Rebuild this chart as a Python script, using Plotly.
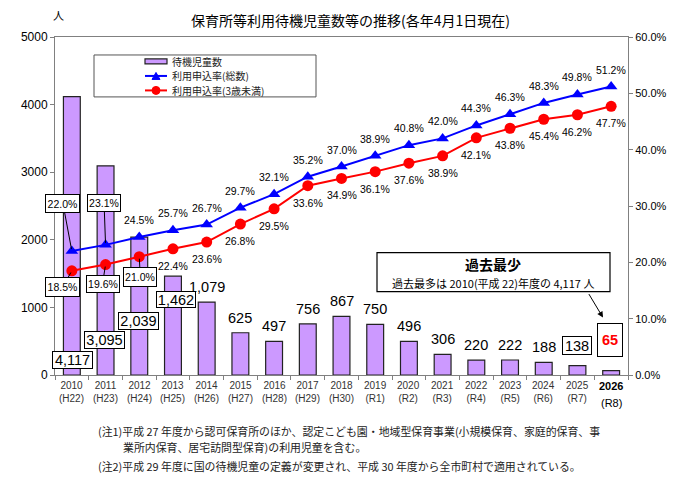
import plotly.graph_objects as go

years = ["2010", "2011", "2012", "2013", "2014", "2015", "2016", "2017", "2018",
         "2019", "2020", "2021", "2022", "2023", "2024", "2025", "2026"]
eras = ["(H22)", "(H23)", "(H24)", "(H25)", "(H26)", "(H27)", "(H28)", "(H29)", "(H30)",
        "(R1)", "(R2)", "(R3)", "(R4)", "(R5)", "(R6)", "(R7)", "(R8)"]
waiting = [4117, 3095, 2039, 1462, 1079, 625, 497, 756, 867, 750, 496, 306, 220, 222, 188, 138, 65]
rate_total = [22.0, 23.1, 24.5, 25.7, 26.7, 29.7, 32.1, 35.2, 37.0, 38.9, 40.8, 42.0, 44.3, 46.3, 48.3, 49.8, 51.2]
rate_under3 = [18.5, 19.6, 21.0, 22.4, 23.6, 26.8, 29.5, 33.6, 34.9, 36.1, 37.6, 38.9, 42.1, 43.8, 45.4, 46.2, 47.7]
legend_names = ["待機児童数", "利用申込率(総数)", "利用申込率(3歳未満)"]

W, H = 684, 486
L, R, T, B = 55, 628, 37, 375.5


def px(x):
    return (x - L) / (R - L)


def py(y):
    return (B - y) / (B - T)


NUM = "Liberation Sans, Arial, Noto Sans CJK JP"
JP = "Noto Sans CJK JP, Liberation Sans"
PCT = 10.5
BARF = 14.5

fig = go.Figure()
fig.add_trace(go.Bar(x=years, y=waiting, name=legend_names[0],
                     marker=dict(color="#CC99FF", line=dict(color="#222222", width=1.2)),
                     width=0.5, showlegend=False))
fig.add_trace(go.Scatter(x=years, y=rate_total, yaxis="y2", mode="lines+markers",
                         name=legend_names[1], line=dict(color="#0000FF", width=2),
                         marker=dict(symbol="triangle-up", size=11, color="#0000FF"),
                         showlegend=False))
fig.add_trace(go.Scatter(x=years, y=rate_under3, yaxis="y2", mode="lines+markers",
                         name=legend_names[2], line=dict(color="#FF0000", width=2),
                         marker=dict(symbol="circle", size=11, color="#FF0000"),
                         showlegend=False))

ann = []
shapes = []

# percentage labels: boxed ones -> (ax, ay, box width, box height)
boxed_total = {0: (-9, -48, 35, 19), 1: (-1.5, -42, 34, 18)}
boxed_u3 = {0: (-9, 16, 35, 20), 1: (-3, 19, 34, 18), 2: (1, 20, 34, 20)}
for series, boxed, shift in [(rate_total, boxed_total, 17), (rate_under3, boxed_u3, -17)]:
    for i, v in enumerate(series):
        if i in boxed:
            ax, ay, bw, bh = boxed[i]
            ann.append(dict(x=i, y=v, yref="y2", text=f"{v:.1f}%", showarrow=True, arrowhead=0,
                            arrowwidth=1, arrowcolor="black", ax=ax, ay=ay, standoff=2,
                            width=bw - 2, height=bh - 2, borderpad=0,
                            bgcolor="white", bordercolor="black", borderwidth=1,
                            font=dict(family=NUM, size=PCT, color="black")))
        else:
            ann.append(dict(x=i, y=v, yref="y2", text=f"{v:.1f}%", showarrow=False, yshift=shift,
                            xanchor="center", yanchor="middle",
                            font=dict(family=NUM, size=PCT, color="black")))

# bar labels: boxed ones -> (y position, xshift, box width, box height)
boxed_bars = {0: (229, 1, 41, 18), 1: (524, -1, 41, 18), 2: (805, -1, 41, 18), 3: (1115, 3, 40, 17),
              15: (436, 0, 30, 19), 16: (524, -1, 26, 34)}
for i, v in enumerate(waiting):
    txt = f"{v:,}"
    if i in boxed_bars:
        yy, xs, bw, bh = boxed_bars[i]
        color = "#FF0000" if i == 16 else "black"
        t = f"<b>{txt}</b>" if i == 16 else txt
        ann.append(dict(x=i, y=yy, text=t, showarrow=False, xshift=xs,
                        xanchor="center", yanchor="middle",
                        width=bw - 2, height=bh - 2, borderpad=0,
                        bgcolor="white", bordercolor="black", borderwidth=1,
                        font=dict(family=NUM, size=BARF, color=color)))
    else:
        ann.append(dict(x=i, y=v, text=txt, showarrow=False, yshift=15,
                        xanchor="center", yanchor="middle",
                        font=dict(family=NUM, size=BARF, color="black")))

# x tick labels (custom)
for i, (yr, er) in enumerate(zip(years, eras)):
    if i < 16:
        ann.append(dict(x=i, y=0, text=f"{yr}<br>{er}", showarrow=False, yanchor="top",
                        xanchor="center", yshift=-3,
                        font=dict(family=NUM, size=10, color="#333333")))
    else:
        ann.append(dict(x=i, y=0, text=f"<b>{yr}</b>", showarrow=False, yanchor="top",
                        xanchor="center", yshift=-3, font=dict(family=NUM, size=11, color="black")))
        ann.append(dict(x=i, y=0, text=er, showarrow=False, yanchor="top",
                        xanchor="center", yshift=-20, font=dict(family=NUM, size=11, color="black")))


def paper_text(x, y, text, size, bold=False, xanchor="center", color="black"):
    t = f"<b>{text}</b>" if bold else text
    ann.append(dict(xref="paper", yref="paper", x=px(x), y=py(y), text=t, showarrow=False,
                    xanchor=xanchor, yanchor="middle",
                    font=dict(family=JP, size=size, color=color)))


# title and unit
paper_text(350, 20, "保育所等利用待機児童数等の推移(各年4月1日現在)", 14)
paper_text(58, 15, "人", 11)

# callout box
shapes.append(dict(type="rect", xref="paper", yref="paper", x0=px(377), x1=px(610), y0=py(253), y1=py(292),
                   line=dict(color="black", width=1.2), fillcolor="white", layer="above"))
paper_text(493, 264, "過去最少", 14, bold=True)
paper_text(493, 283, "過去最多は 2010(平成 22)年度の 4,117 人", 11)
ann.append(dict(xref="paper", yref="paper", x=px(603), y=py(318), text="", showarrow=True,
                arrowhead=2, arrowsize=1.2, arrowwidth=1, arrowcolor="black", ax=-15, ay=-25))

# manual legend
LY = [61.5, 76, 90.5]
shapes.append(dict(type="rect", xref="paper", yref="paper", x0=px(94), x1=px(316), y0=py(55), y1=py(97),
                   line=dict(color="#555555", width=1), fillcolor="white", layer="below"))
shapes.append(dict(type="rect", xref="paper", yref="paper", x0=px(145), x1=px(167), y0=py(LY[0] - 2.5),
                   y1=py(LY[0] + 2.5), line=dict(color="#222222", width=1.2), fillcolor="#CC99FF", layer="above"))
for yy, col in [(LY[1], "#0000FF"), (LY[2], "#FF0000")]:
    shapes.append(dict(type="line", xref="paper", yref="paper", x0=px(145), x1=px(167), y0=py(yy), y1=py(yy),
                       line=dict(color=col, width=2), layer="above"))
shapes.append(dict(type="path", xref="paper", yref="paper",
                   path=f"M {px(152)} {py(LY[1] + 3.5)} L {px(160)} {py(LY[1] + 3.5)} L {px(156)} {py(LY[1] - 3.5)} Z",
                   fillcolor="#0000FF", line=dict(color="#0000FF", width=1), layer="above"))
shapes.append(dict(type="circle", xref="paper", yref="paper", x0=px(152), x1=px(160), y0=py(LY[2] - 4),
                   y1=py(LY[2] + 4), fillcolor="#FF0000", line=dict(color="#FF0000", width=1), layer="above"))
for yy, name in zip(LY, legend_names):
    paper_text(170, yy, name, 10, xanchor="left", color="#222222")

# footnotes
notes = [(96, 432, "(注1)平成 27 年度から認可保育所のほか、認定こども園・地域型保育事業(小規模保育、家庭的保育、事"),
         (121, 448, "業所内保育、居宅訪問型保育)の利用児童を含む。"),
         (96, 467, "(注2)平成 29 年度に国の待機児童の定義が変更され、平成 30 年度から全市町村で適用されている。")]
for x, y, t in notes:
    paper_text(x, y, t, 10.9, xanchor="left", color="#222222")

fig.update_layout(
    width=W, height=H,
    margin=dict(l=L, r=W - R, t=T, b=H - B),
    paper_bgcolor="white", plot_bgcolor="white",
    showlegend=False,
    xaxis=dict(type="category", categoryorder="array", categoryarray=years,
               showticklabels=False, ticks="outside", tickson="boundaries", ticklen=4,
               tickcolor="#808080", showline=True, linecolor="#808080", linewidth=1, mirror=True,
               showgrid=False, zeroline=False, range=[-0.5, 16.5]),
    yaxis=dict(range=[0, 5000], dtick=1000, ticks="outside", ticklen=4, tickcolor="#808080",
               showline=True, linecolor="#808080", linewidth=1, showgrid=False, zeroline=False,
               tickformat="d", tickfont=dict(family=NUM, size=12, color="black")),
    yaxis2=dict(range=[0, 60], dtick=10, overlaying="y", side="right", ticks="outside", ticklen=4,
                tickcolor="#808080", showline=True, linecolor="#808080", linewidth=1,
                showgrid=False, zeroline=False, tickformat=".1f", ticksuffix="%",
                tickfont=dict(family=NUM, size=11, color="black")),
    annotations=ann,
    shapes=shapes,
)

fig.write_html("out.html")
